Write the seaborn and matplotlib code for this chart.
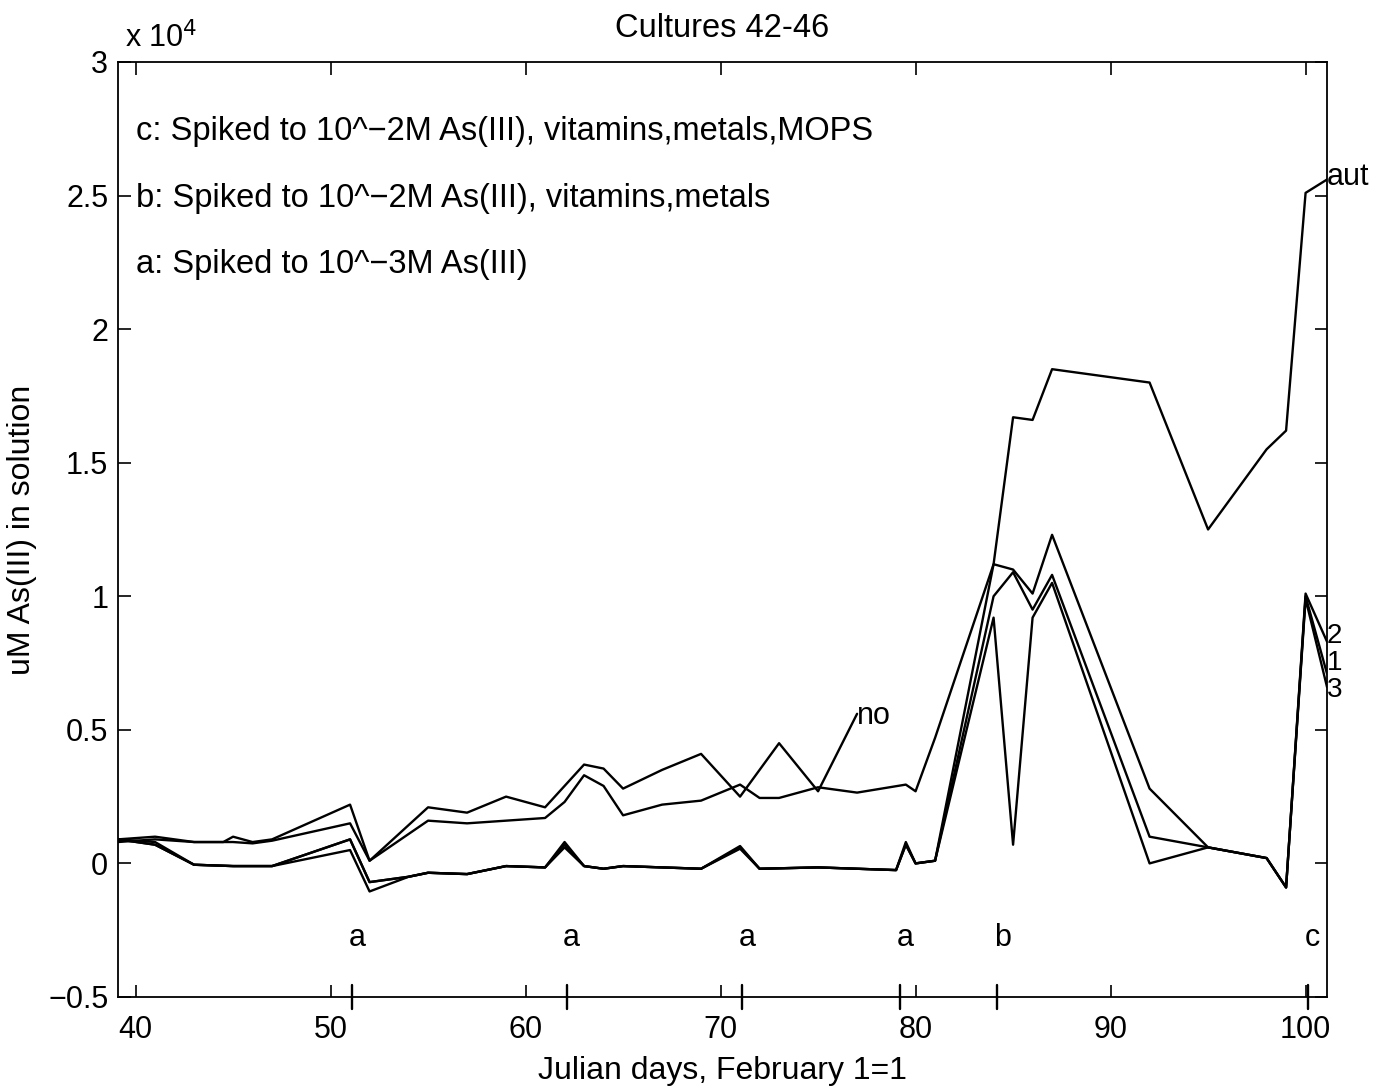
import matplotlib
matplotlib.use("Agg")
import matplotlib.pyplot as plt
import pandas as pd
import seaborn as sns

# values in units of 10^4 uM
no_days = [39.1, 41, 43, 44.5, 45, 46, 47, 51, 52, 55, 57, 59, 61, 62, 63, 64, 65, 67, 69, 71, 73, 75, 77]
no_vals = [0.09, 0.10, 0.08, 0.08, 0.10, 0.08, 0.09, 0.22, 0.01, 0.21, 0.19, 0.25, 0.21, 0.29, 0.37, 0.355,
           0.28, 0.35, 0.41, 0.25, 0.45, 0.27, 0.56]

aut_days = [39.1, 41, 43, 45, 46, 47, 51, 52, 55, 57, 59, 61, 62, 63, 64, 65, 67, 69, 71, 72, 73, 75, 77,
            79.5, 80, 81, 84, 85, 86, 87, 92, 95, 98, 99, 100, 101.1]
aut_vals = [0.08, 0.09, 0.08, 0.08, 0.075, 0.085, 0.15, 0.01, 0.16, 0.15, 0.16, 0.17, 0.23, 0.33, 0.29, 0.18,
            0.22, 0.235, 0.295, 0.245, 0.245, 0.285, 0.265, 0.295, 0.27, 0.47, 1.12, 1.67, 1.66, 1.85,
            1.80, 1.25, 1.55, 1.62, 2.51, 2.56]

low_days = [39.1, 41, 43, 45, 47, 51, 52, 54, 55, 57, 59, 61, 62, 63, 64, 65, 69, 71, 72, 75, 79, 79.5, 80, 81,
            84, 85, 86, 87, 92, 95, 98, 99, 100, 101.1]
c1_vals = [0.09, 0.07, -0.005, -0.01, -0.01, 0.09, -0.07, -0.05, -0.035, -0.04, -0.01, -0.015, 0.07, -0.01,
           -0.02, -0.01, -0.02, 0.06, -0.02, -0.015, -0.025, 0.07, 0.0, 0.01,
           1.00, 1.09, 0.95, 1.08, 0.10, 0.06, 0.02, -0.09, 1.00, 0.71]
c2_vals = [0.09, 0.07, -0.005, -0.01, -0.01, 0.09, -0.07, -0.05, -0.035, -0.04, -0.01, -0.015, 0.08, -0.01,
           -0.02, -0.01, -0.02, 0.065, -0.02, -0.015, -0.025, 0.08, 0.0, 0.01,
           1.12, 1.10, 1.01, 1.23, 0.28, 0.06, 0.02, -0.09, 1.01, 0.83]
c3_vals = [0.09, 0.08, -0.005, -0.01, -0.01, 0.05, -0.105, -0.05, -0.035, -0.04, -0.01, -0.015, 0.06, -0.01,
           -0.02, -0.01, -0.02, 0.055, -0.02, -0.015, -0.025, 0.07, 0.0, 0.01,
           0.92, 0.07, 0.92, 1.05, 0.0, 0.06, 0.02, -0.09, 0.99, 0.66]

spike_days = [51.1, 62.1, 71.1, 79.2, 84.2, 100.1]
spike_labels = ["a", "a", "a", "a", "b", "c"]
notes = ["c: Spiked to 10^\u22122M As(III), vitamins,metals,MOPS",
         "b: Spiked to 10^\u22122M As(III), vitamins,metals",
         "a: Spiked to 10^\u22123M As(III)"]

frames = [pd.DataFrame({"day": no_days, "as3": no_vals, "culture": "no"}),
          pd.DataFrame({"day": aut_days, "as3": aut_vals, "culture": "aut"}),
          pd.DataFrame({"day": low_days, "as3": c1_vals, "culture": "1"}),
          pd.DataFrame({"day": low_days, "as3": c2_vals, "culture": "2"}),
          pd.DataFrame({"day": low_days, "as3": c3_vals, "culture": "3"})]
df = pd.concat(frames, ignore_index=True)

sns.set_style("ticks")
plt.rcParams["font.family"] = ["Liberation Sans", "DejaVu Sans"]
plt.rcParams["axes.unicode_minus"] = True
for key in ["text.color", "axes.labelcolor", "xtick.color", "ytick.color", "axes.edgecolor"]:
    plt.rcParams[key] = "black"

fig = plt.figure(figsize=(13.9, 10.89), dpi=100)
ax = fig.add_axes([0.0849, 0.0845, 0.8698, 0.8586])

sns.lineplot(data=df, x="day", y="as3", hue="culture", units="culture", estimator=None, sort=False,
             palette={k: "black" for k in ["no", "aut", "1", "2", "3"]}, linewidth=1.7, legend=False, ax=ax)

ax.set_xlim(39.1, 101.1)
ax.set_ylim(-0.5, 3)
ax.set_xticks(range(40, 101, 10))
ax.set_yticks([-0.5, 0, 0.5, 1, 1.5, 2, 2.5, 3])
ax.set_yticklabels(["\u22120.5", "0", "0.5", "1", "1.5", "2", "2.5", "3"])
ax.tick_params(direction="in", top=True, right=True, length=9, width=1.2, labelsize=22)
ax.tick_params(axis="x", pad=13)
ax.tick_params(axis="y", pad=7)
for s in ax.spines.values():
    s.set_linewidth(1.3)

ax.set_title("Cultures 42-46", fontsize=23.5, pad=18)
ax.set_xlabel("Julian days, February 1=1", fontsize=23, labelpad=8)
ax.set_ylabel("uM As(III) in solution", fontsize=23, labelpad=8)
ax.text(0.006, 1.008, "x 10$^{4}$", transform=ax.transAxes, fontsize=22, ha="left", va="bottom")

# spike markers on the time axis
for d, lab in zip(spike_days, spike_labels):
    ax.plot([d, d], [-0.545, -0.455], color="black", lw=1.7, clip_on=False)
    ax.text(d + 0.25, -0.28, lab, fontsize=22, ha="center", va="center")

for i, t in enumerate(notes):
    ax.text(40.0, 2.74 - 0.25 * i, t, fontsize=23.5, ha="left", va="center")

# line end labels
ax.text(101.1, 2.57, "aut", fontsize=22, ha="left", va="center", clip_on=False)
ax.text(77.0, 0.55, "no", fontsize=22, ha="left", va="center")
ax.text(101.1, 0.85, "2", fontsize=20, ha="left", va="center", clip_on=False)
ax.text(101.1, 0.75, "1", fontsize=20, ha="left", va="center", clip_on=False)
ax.text(101.1, 0.65, "3", fontsize=20, ha="left", va="center", clip_on=False)

fig.savefig("out.png", dpi=100)
